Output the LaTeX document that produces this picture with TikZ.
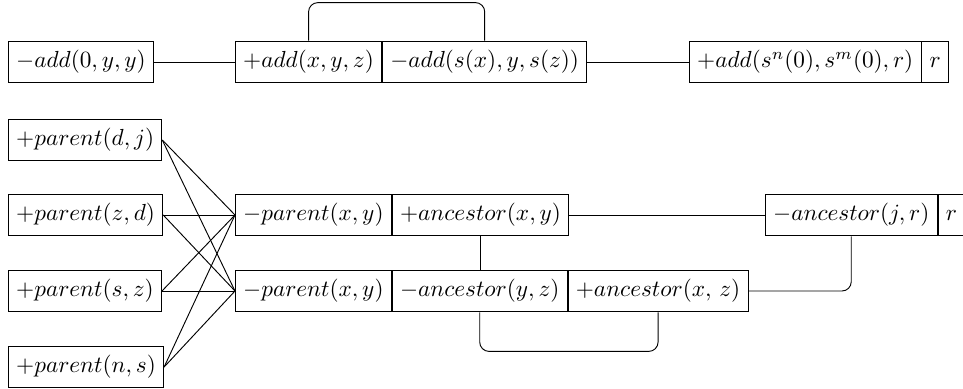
\documentclass[tikz,border=0pt]{standalone}
\usepackage{amsmath}
\usetikzlibrary{positioning}
\tikzset{%
  node distance=0mm, % boxes of one clause sit side by side
  every node/.style={outer sep=.2pt}
}

\begin{document}
\begin{tikzpicture}[x=0.43pt, y=-0.43pt]
  \tikzset{lit/.style={draw, minimum height=18pt}}
  \useasboundingbox (0,0) rectangle (963,389);
  % add clauses
  \node [lit, anchor=west] (add0) at (8,62) {$-add(0,y,y)$};
  \node [lit, anchor=west] (addxyz) at (235,62) {$+add(x,y,z)$};
  \node [lit, right=of addxyz] (addsx) {$-add(s(x),y,s(z))$};
  \node [lit, anchor=west] (addq) at (689,62) {$+add(s^n(0),s^m(0),r)$};
  \node [lit, right=of addq] (addr) {$r$};
  \draw (add0) -- (addxyz);
  \draw (addsx) -- (addq);
  \draw [rounded corners=4pt] (addxyz.north) -- ++(0,-38) -| (addsx.north);
  % parent facts
  \foreach \a/\b/\y [count=\i] in {d/j/140, z/d/215, s/z/291, n/s/367}{%
    \node [lit, anchor=west] (par\i) at (8,\y) {$+parent(\a,\b)$};
  }
  % ancestor clauses
  \node [lit, anchor=west] (negp1) at (235,215) {$-parent(x,y)$};
  \node [lit, right=of negp1] (ancxy) {$+ancestor(x,y)$};
  \node [lit, anchor=west] (negp2) at (235,291) {$-parent(x,y)$};
  \node [lit, right=of negp2] (ancyz) {$-ancestor(y,z)$};
  \node [lit, right=of ancyz] (ancxz) {$+ancestor(x,\,z)$};
  \node [lit, anchor=west] (ancjr) at (765,215) {$-ancestor(j,r)$};
  \node [lit, right=of ancjr] (ancr) {$r$};
  \foreach \i in {1,...,4}{%
    \foreach \j in {1,2}{%
      \draw (par\i.east) -- (negp\j.west);
    }
  }
  \draw (ancxy) -- (ancjr);
  \draw (ancxy.south) -- (ancxy.south |- ancyz.north);
  \draw [rounded corners=4pt] (ancyz.south) -- ++(0,39) -| (ancxz.south);
  \draw [rounded corners=4pt] (ancjr.south) |- (ancxz.east);
\end{tikzpicture}
\end{document}
